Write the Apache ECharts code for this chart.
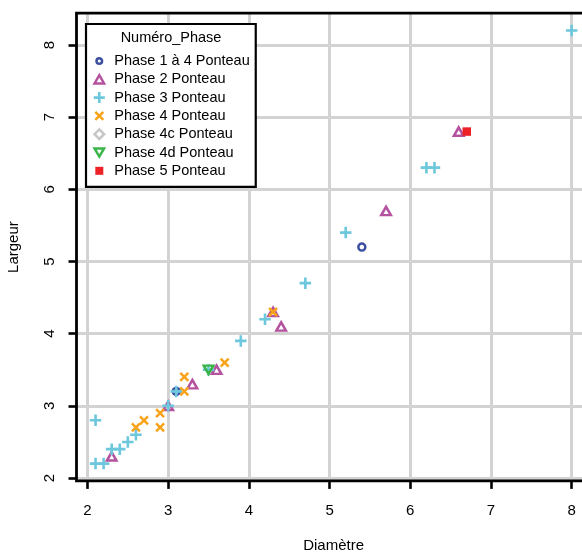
<!DOCTYPE html>
<html>
<head>
<meta charset="utf-8">
<script src="https://cdn.jsdelivr.net/npm/echarts@6/dist/echarts.min.js"></script>
<style>html,body{margin:0;padding:0;background:#fff;}#c{width:582px;height:552px;}</style>
</head>
<body>
<div id="c"></div>
<script>
const categories = ['Phase 1 à 4 Ponteau', 'Phase 2 Ponteau', 'Phase 3 Ponteau', 'Phase 4 Ponteau', 'Phase 4c Ponteau', 'Phase 4d Ponteau', 'Phase 5 Ponteau'];
const phase1a4 = [[5.4, 5.2], [3.1, 3.2]];
const phase2 = [[6.6, 6.8], [5.7, 5.7], [4.3, 4.3], [4.4, 4.1], [3.6, 3.5], [3.3, 3.3], [3.0, 3.0], [2.3, 2.3]];
const phase3 = [[8.0, 8.2], [6.2, 6.3], [6.3, 6.3], [5.2, 5.4], [4.7, 4.7], [4.2, 4.2], [3.9, 3.9], [3.5, 3.5], [3.1, 3.2], [3.0, 3.0], [2.1, 2.8], [2.6, 2.6], [2.5, 2.5], [2.4, 2.4], [2.3, 2.4], [2.1, 2.2], [2.2, 2.2]];
const phase4 = [[4.3, 4.3], [3.7, 3.6], [3.2, 3.4], [3.2, 3.2], [2.9, 2.9], [2.9, 2.7], [2.7, 2.8], [2.6, 2.7]];
const phase4c = [];
const phase4d = [[3.5, 3.5]];
const phase5 = [[6.7, 6.8]];
const seriesData = [phase1a4, phase2, phase3, phase4, phase4c, phase4d, phase5];
const xTicks = [2, 3, 4, 5, 6, 7, 8];
const yTicks = [2, 3, 4, 5, 6, 7, 8];
const legendTitle = 'Numéro_Phase';
const xName = 'Diamètre';
const yName = 'Largeur';

const FONT = 'Liberation Sans, Arial, Helvetica, sans-serif';
const styles = [
  {symbol: 'path://M5,0A5,5,0,1,1,5,10A5,5,0,1,1,5,0Z', icon: 'path://M0,0M12,12M6,3.2A2.8,2.8,0,1,1,6,8.8A2.8,2.8,0,1,1,6,3.2Z', size: 7, color: 'rgba(0,0,0,0)', border: '#3D4FA1', bw: 2.5},
  {symbol: 'path://M5,0L10,8.66L0,8.66Z', icon: 'path://M0,0M12,12M6,1.9L10.75,10.1L1.25,10.1Z', size: [9.5, 8.3], color: 'rgba(0,0,0,0)', border: '#B5529F', bw: 2.5},
  {symbol: 'path://M0,5L10,5M5,0L5,10', icon: 'path://M0,0M12,12M0.5,6L11.5,6M6,0.5L6,11.5', size: 11.5, color: 'rgba(0,0,0,0)', border: '#6DC7DD', bw: 2.6},
  {symbol: 'path://M0,0L10,10M10,0L0,10', icon: 'path://M0,0M12,12M2,2L10,10M10,2L2,10', size: 8, color: 'rgba(0,0,0,0)', border: '#F9A31B', bw: 2.5},
  {symbol: 'path://M5,0L10,5L5,10L0,5Z', icon: 'path://M0,0M12,12M6,1.2L10.8,6L6,10.8L1.2,6Z', size: 9, color: 'rgba(0,0,0,0)', border: '#C6C6C6', bw: 2.5},
  {symbol: 'path://M0,0L10,0L5,8.66Z', icon: 'path://M0,0M12,12M1.25,1.9L10.75,1.9L6,10.1Z', size: [9.5, 8.3], color: 'rgba(0,0,0,0)', border: '#3BB54A', bw: 2.5},
  {symbol: 'path://M0,0L10,0L10,10L0,10Z', icon: 'path://M0,0M12,12M2,2L10,2L10,10L2,10Z', size: 8.5, color: '#EE2226', border: '#EE2226', bw: 0}
];

const series = categories.map((name, i) => ({
  type: 'scatter',
  name: name,
  data: seriesData[i],
  symbol: styles[i].symbol,
  symbolSize: styles[i].size,
  itemStyle: {color: styles[i].color, borderColor: styles[i].border, borderWidth: styles[i].bw, opacity: 1},
  emphasis: {disabled: true},
  z: 3
}));

const legendData = categories.map((name, i) => ({
  name: name,
  icon: styles[i].icon,
  itemStyle: {color: styles[i].color, borderColor: styles[i].border, borderWidth: styles[i].bw}
}));

const axisCommon = {
  type: 'value',
  minInterval: 1,
  maxInterval: 1,
  nameLocation: 'middle',
  nameTextStyle: {fontFamily: FONT, fontSize: 15, color: '#000'},
  axisLine: {show: false},
  axisTick: {show: true, length: 8, lineStyle: {color: '#000', width: 2.6}},
  splitLine: {show: true, lineStyle: {color: '#D3D3D3', width: 3}},
  z: 0
};

const chart = echarts.init(document.getElementById('c'), null, {renderer: 'canvas'});
chart.setOption({
  backgroundColor: '#fff',
  animation: false,
  grid: {left: 76.5, top: 13.2, width: 514.2, height: 467.7, show: true, borderColor: '#000', borderWidth: 2.8, backgroundColor: 'transparent', z: 1, containLabel: false, outerBoundsMode: 'none'},
  xAxis: Object.assign({}, axisCommon, {
    min: 1.864, max: 8.236,
    name: xName, nameGap: 57,
    axisTick: Object.assign({}, axisCommon.axisTick, {customValues: xTicks}),
    axisLabel: {customValues: xTicks, margin: 22, fontFamily: FONT, fontSize: 15, color: '#000'}
  }),
  yAxis: Object.assign({}, axisCommon, {
    min: 1.96, max: 8.44,
    name: yName, nameGap: 55,
    axisTick: Object.assign({}, axisCommon.axisTick, {customValues: yTicks}),
    axisLabel: {customValues: yTicks, rotate: 90, margin: 19, fontFamily: FONT, fontSize: 15, color: '#000'}
  }),
  legend: {
    show: true,
    orient: 'vertical',
    left: 86, top: 24,
    padding: [27.85, 6, 7, 6],
    itemWidth: 20, itemHeight: 12, itemGap: 0,
    symbolKeepAspect: true,
    borderColor: '#000', borderWidth: 2.2,
    backgroundColor: '#fff',
    selectedMode: false,
    textStyle: {fontFamily: FONT, fontSize: 14.5, color: '#000', lineHeight: 18.3},
    data: legendData,
    z: 10
  },
  graphic: [{
    type: 'text', x: 171, y: 37.5, z: 20,
    style: {text: legendTitle, fontFamily: FONT, fontSize: 14.5, fill: '#000', align: 'center', verticalAlign: 'middle'}
  }],
  series: series
});
</script>
</body>
</html>
